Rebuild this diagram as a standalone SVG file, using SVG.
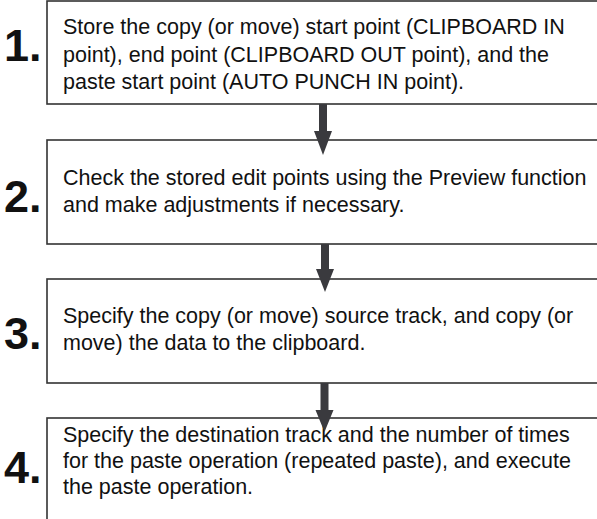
<svg xmlns="http://www.w3.org/2000/svg" width="597" height="519" viewBox="0 0 597 519">
  <style>
    .box { fill: #ffffff; stroke: #333333; stroke-width: 1.6; }
    .txt { font-family: "Liberation Sans", Arial, Helvetica, sans-serif; font-size: 21.5px; fill: #111111; }
    .num { font-family: "Liberation Sans", Arial, Helvetica, sans-serif; font-size: 45px; font-weight: bold; fill: #111111; }
    .arrow { fill: #3a3a3e; }
  </style>
  <rect x="0" y="0" width="597" height="519" fill="#ffffff"/>
  <g id="step1">
    <rect class="box" x="47" y="1" width="560" height="103"/>
    <text class="num" x="4" y="61">1.</text>
    <text class="txt" x="63" y="34">Store the copy (or move) start point (CLIPBOARD IN</text>
    <text class="txt" x="63" y="62">point), end point (CLIPBOARD OUT point), and the</text>
    <text class="txt" x="63" y="89">paste start point (AUTO PUNCH IN point).</text>
  </g>
  <g id="step2">
    <rect class="box" x="47" y="140" width="560" height="104"/>
    <text class="num" x="4" y="212">2.</text>
    <text class="txt" x="63" y="185">Check the stored edit points using the Preview function</text>
    <text class="txt" x="63" y="212">and make adjustments if necessary.</text>
  </g>
  <g id="step3">
    <rect class="box" x="47" y="279" width="560" height="104"/>
    <text class="num" x="4" y="349">3.</text>
    <text class="txt" x="63" y="323">Specify the copy (or move) source track, and copy (or</text>
    <text class="txt" x="63" y="350">move) the data to the clipboard.</text>
  </g>
  <g id="step4">
    <rect class="box" x="47" y="418" width="560" height="110"/>
    <text class="num" x="4" y="483">4.</text>
    <text class="txt" x="63" y="442">Specify the destination track and the number of times</text>
    <text class="txt" x="63" y="468">for the paste operation (repeated paste), and execute</text>
    <text class="txt" x="63" y="494">the paste operation.</text>
  </g>
  <g id="connectors">
    <polygon class="arrow" points="319,104 327,104 327,131 332,131 323,155 314,131 319,131"/>
    <polygon class="arrow" points="321,244 329,244 329,269 334,269 325,292 316,269 321,269"/>
    <polygon class="arrow" points="320.5,383 328.5,383 328.5,410 333.5,410 324.5,432 315.5,410 320.5,410"/>
  </g>
</svg>
